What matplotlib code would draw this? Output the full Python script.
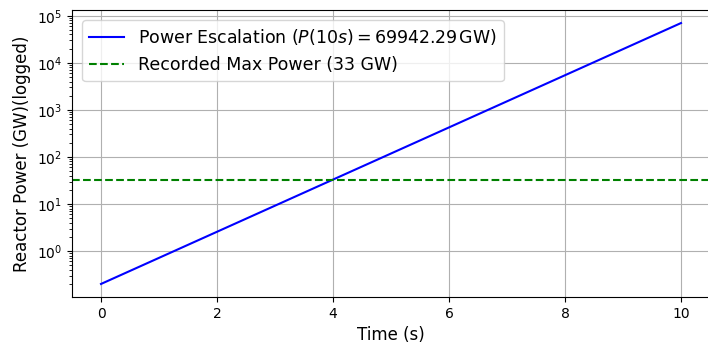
import matplotlib.pyplot as plt

# endpoints of the exponential power curve (straight on log axis)
time_s = [0, 10]
power_gw = [0.2, 69942.29]
max_power = 33

fig = plt.figure(figsize=(7.08, 3.45), dpi=100)
ax = fig.add_axes([72 / 708, 1 - 297 / 345, 638 / 708, 287 / 345])

ax.plot(time_s, power_gw, color="blue",
        label=r"Power Escalation ($P(10s) = 69942.29\,$GW)")
ax.axhline(max_power, color="green", linestyle="--",
           label="Recorded Max Power (33 GW)")
ax.set_yscale("log")
ax.set_xlabel("Time (s)", fontsize=12)
ax.set_ylabel("Reactor Power (GW)(logged)", fontsize=12)
ax.grid(True)
ax.legend(fontsize=12.5, loc="upper left", borderaxespad=0.6)

fig.savefig("out.png", dpi=100)
